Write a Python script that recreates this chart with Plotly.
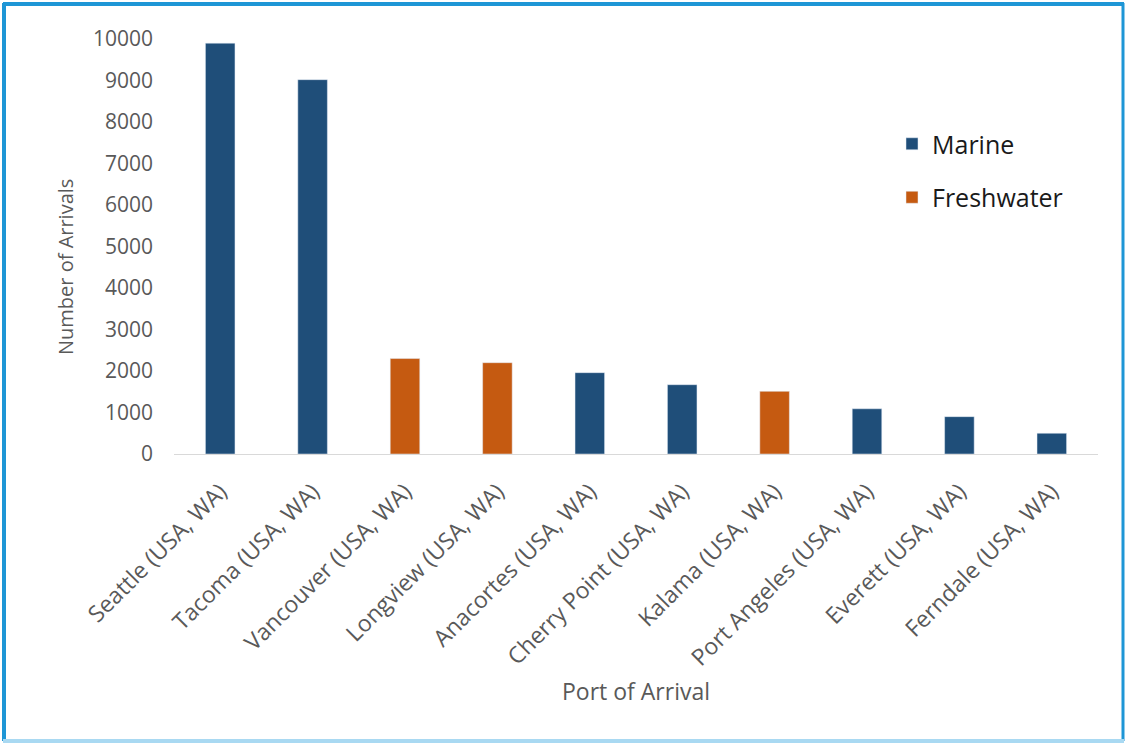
import plotly.graph_objects as go

ports = ["Seattle (USA, WA)", "Tacoma (USA, WA)", "Vancouver (USA, WA)", "Longview (USA, WA)",
         "Anacortes (USA, WA)", "Cherry Point (USA, WA)", "Kalama (USA, WA)",
         "Port Angeles (USA, WA)", "Everett (USA, WA)", "Ferndale (USA, WA)"]
arrivals = [9900, 9020, 2300, 2200, 1960, 1670, 1510, 1090, 900, 500]
port_type = ["Marine", "Marine", "Freshwater", "Freshwater", "Marine", "Marine",
             "Freshwater", "Marine", "Marine", "Marine"]
y_ticks = [0, 1000, 2000, 3000, 4000, 5000, 6000, 7000, 8000, 9000, 10000]
y_ticktext = [str(v) for v in y_ticks]

colors = {"Marine": "#1F4E79", "Freshwater": "#C55A11"}
FONT = "Open Sans"

fig = go.Figure()
for t in ["Marine", "Freshwater"]:
    vals = [v if pt == t else None for v, pt in zip(arrivals, port_type)]
    fig.add_trace(go.Bar(x=ports, y=vals, name=t, marker_color=colors[t],
                         legendgroup=t, width=0.32))

L, R, T, B = 174, 30, 39, 290
W, H = 1128, 744
pw = W - L - R
ph = H - T - B
def px(x): return (x - L) / pw
def py(y): return (H - B - y) / ph

border = "#1E96D6"
shapes = [
    dict(type="line", xref="paper", yref="paper", x0=px(3), x1=px(1124), y0=py(4), y1=py(4), line=dict(color=border, width=4)),
    dict(type="line", xref="paper", yref="paper", x0=px(4), x1=px(4), y0=py(3), y1=py(741), line=dict(color=border, width=4)),
    dict(type="line", xref="paper", yref="paper", x0=px(1123), x1=px(1123), y0=py(3), y1=py(741), line=dict(color=border, width=3)),
    dict(type="line", xref="paper", yref="paper", x0=px(3), x1=px(1124), y0=py(741), y1=py(741), line=dict(color="#A9D9F2", width=4)),
]

annotations = [
    dict(text="Port of Arrival", xref="paper", yref="paper", x=px(636), y=py(691),
         xanchor="center", yanchor="middle", showarrow=False,
         font=dict(size=23, color="#595959", family=FONT)),
    dict(text="Number of Arrivals", xref="paper", yref="paper", x=px(65), y=py(267),
         xanchor="center", yanchor="middle", showarrow=False, textangle=-90,
         font=dict(size=20, color="#595959", family=FONT)),
]

fig.update_layout(
    width=W, height=H,
    margin=dict(l=L, r=R, t=T, b=B),
    paper_bgcolor="white", plot_bgcolor="white",
    barmode="overlay",
    font=dict(family=FONT, color="#595959"),
    showlegend=True,
    legend=dict(x=px(892), y=py(121), xanchor="left", yanchor="top",
                font=dict(size=25, color="#1A1A1A", family=FONT),
                tracegroupgap=18, traceorder="grouped",
                itemwidth=30, bgcolor="rgba(0,0,0,0)"),
    shapes=shapes,
    annotations=annotations,
)
fig.update_xaxes(
    tickangle=-45, tickfont=dict(size=23, color="#595959"),
    showline=True, linecolor="#D9D9D9", linewidth=1, ticks="", showgrid=False,
    ticklabelstandoff=14,
    automargin=False,
)
fig.update_yaxes(
    range=[0, 10000], tickvals=y_ticks, ticktext=y_ticktext,
    tickfont=dict(size=21, color="#595959"),
    showline=False, showgrid=False, zeroline=False, ticks="",
    ticklabelstandoff=20,
    automargin=False,
)

fig.write_html("out.html")
